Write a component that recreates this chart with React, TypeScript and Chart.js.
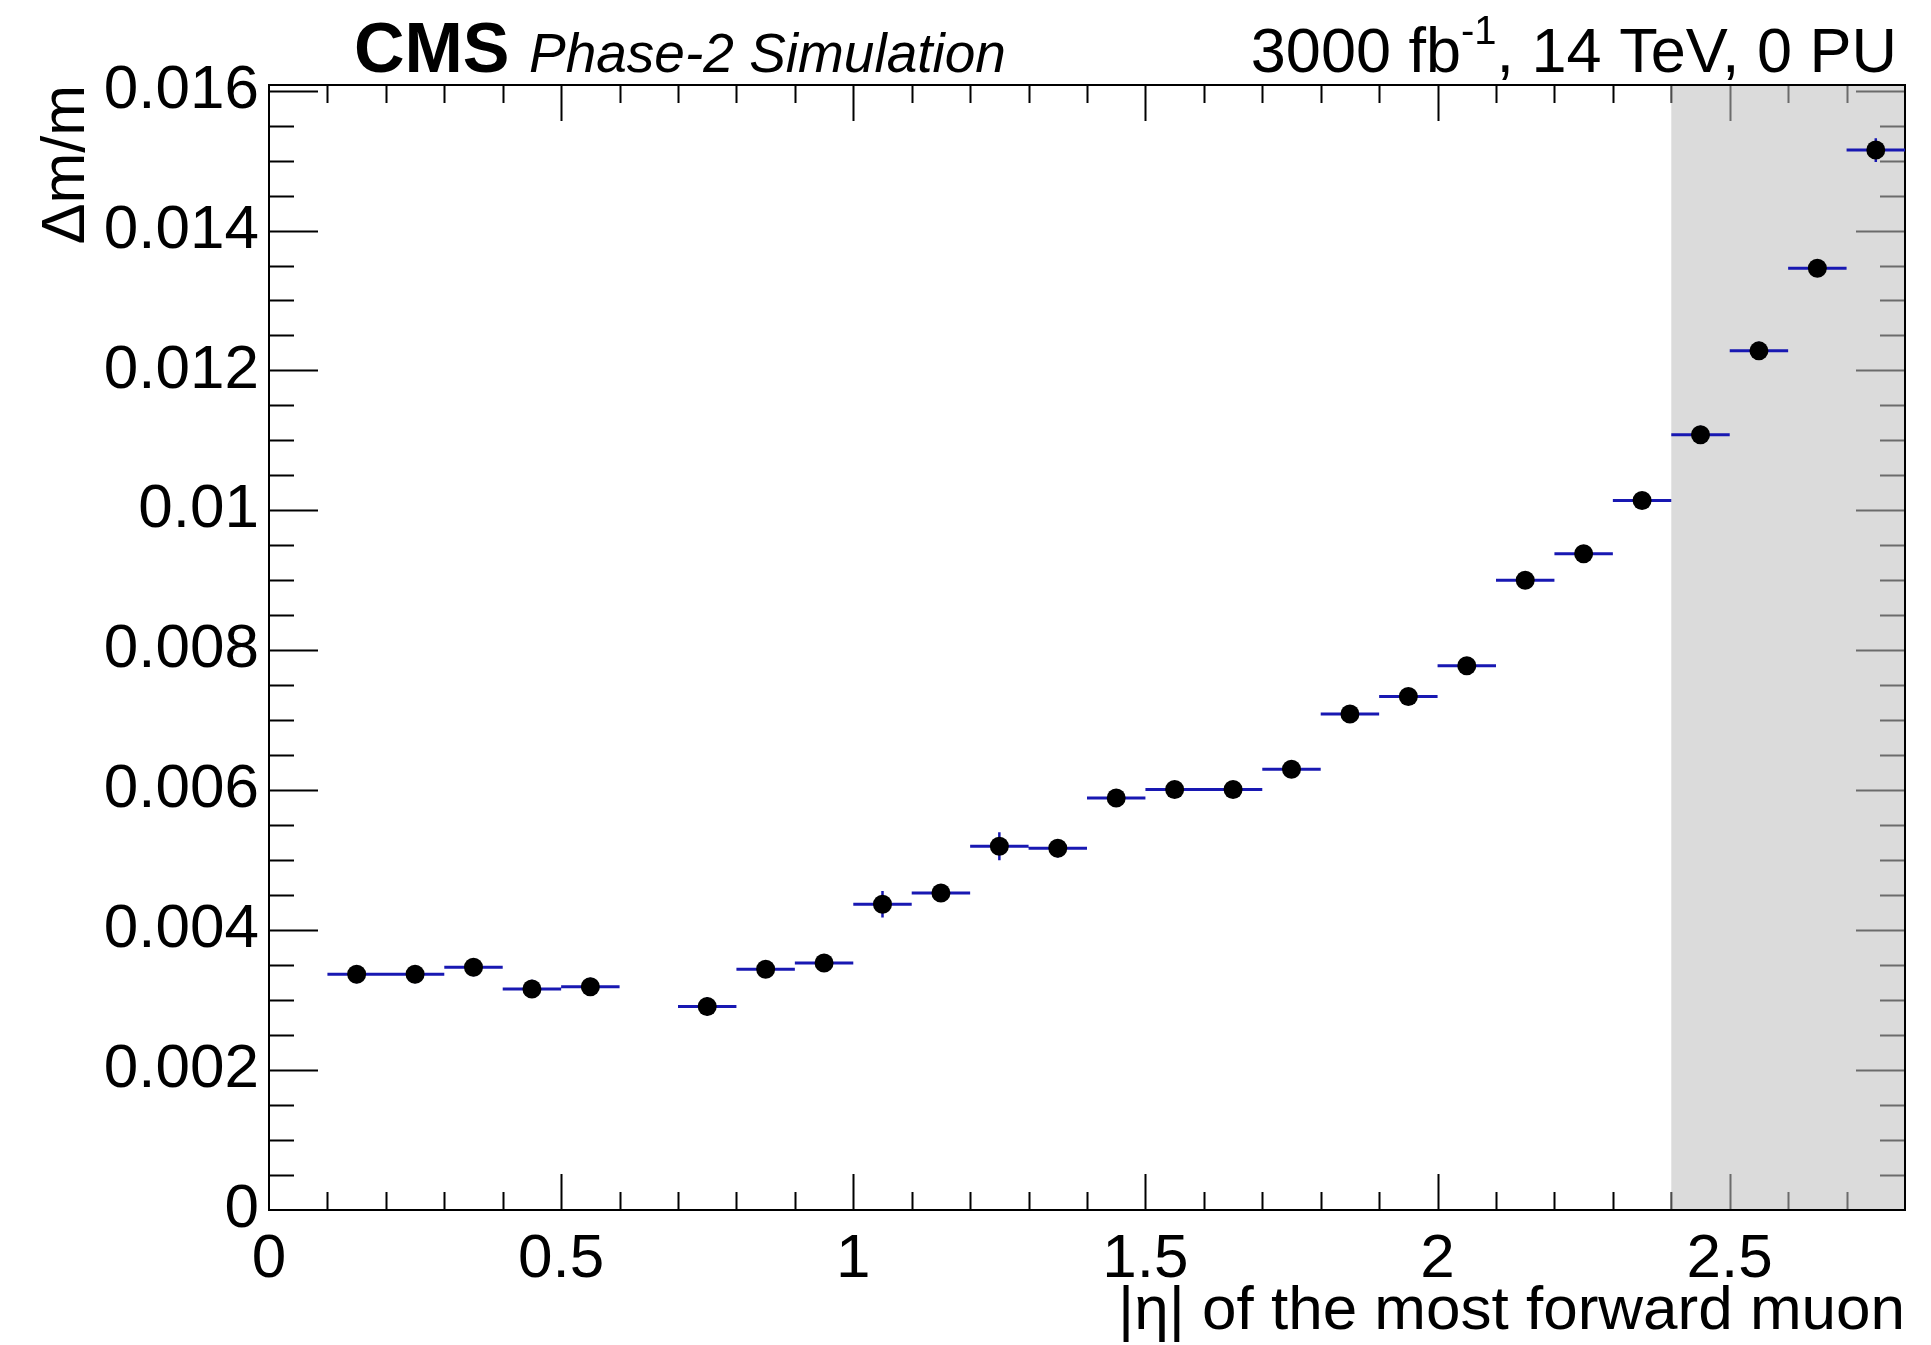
import React, { useEffect, useRef } from "react";
import { Chart, registerables } from "chart.js";

Chart.register(...registerables);

// ---- data ----
const binCenters = [
  0.15, 0.25, 0.35, 0.45, 0.55, 0.75, 0.85, 0.95, 1.05, 1.15, 1.25, 1.35, 1.45,
  1.55, 1.65, 1.75, 1.85, 1.95, 2.05, 2.15, 2.25, 2.35, 2.45, 2.55, 2.65, 2.75,
];
const binHalfWidths = binCenters.map(() => 0.05);
const massResolution = [
  0.00337, 0.00337, 0.00347, 0.00316, 0.00319, 0.00291, 0.00344, 0.00353,
  0.00437, 0.00453, 0.0052, 0.00517, 0.00589, 0.00601, 0.00601, 0.0063,
  0.00709, 0.00734, 0.00778, 0.009, 0.00938, 0.01014, 0.01108, 0.01228,
  0.01346, 0.01515,
];
const massResolutionErr = [
  0.00013, 0.00013, 0.00013, 0.00013, 0.00013, 0.00013, 0.00012, 0.00012,
  0.00019, 0.00012, 0.0002, 0.00013, 0.00012, 0.00012, 0.00012, 0.00012,
  0.00012, 0.00012, 0.00012, 0.00012, 0.00012, 0.00012, 0.00013, 0.00013,
  0.00012, 0.00017,
];
const xTickValues = [0, 0.5, 1, 1.5, 2, 2.5];
const xTickLabels = ["0", "0.5", "1", "1.5", "2", "2.5"];
const yTickValues = [0, 0.002, 0.004, 0.006, 0.008, 0.01, 0.012, 0.014, 0.016];
const yTickLabels = ["0", "0.002", "0.004", "0.006", "0.008", "0.01", "0.012", "0.014", "0.016"];
const xRange = [0, 2.8];
const yRange = [0, 0.01608];
const xMinorStep = 0.1;
const yMinorStep = 0.0005;
const shadedRegion = [2.4, 2.8];

const FONT = '"Liberation Sans", Arial, Helvetica, sans-serif';
const BLUE = "#1818b2";

const rootPlugin = {
  id: "rootFrame",
  beforeDatasetsDraw(chart: any) {
    const { ctx, chartArea: a, scales } = chart;
    const x = scales.x;
    const y = scales.y;
    ctx.save();
    // tick marks (inside frame, ROOT style)
    ctx.strokeStyle = "#000";
    ctx.lineWidth = 2;
    ctx.beginPath();
    const isMajor = (v: number, majors: number[]) =>
      majors.some((m) => Math.abs(m - v) < 1e-9);
    for (let k = 1; k * xMinorStep < xRange[1] - 1e-9; k++) {
      const v = k * xMinorStep;
      const len = isMajor(v, xTickValues) ? 36 : 18;
      const px = Math.round(x.getPixelForValue(v)) + 0.5;
      ctx.moveTo(px, a.bottom);
      ctx.lineTo(px, a.bottom - len);
      ctx.moveTo(px, a.top);
      ctx.lineTo(px, a.top + len);
    }
    for (let k = 1; k * yMinorStep < yRange[1] + 1e-12; k++) {
      const v = k * yMinorStep;
      const len = isMajor(v, yTickValues) ? 49 : 25;
      const py = Math.round(y.getPixelForValue(v)) + 0.5;
      ctx.moveTo(a.left, py);
      ctx.lineTo(a.left + len, py);
      ctx.moveTo(a.right, py);
      ctx.lineTo(a.right - len, py);
    }
    ctx.stroke();

    // shaded region
    const bx0 = x.getPixelForValue(shadedRegion[0]);
    const bx1 = x.getPixelForValue(shadedRegion[1]);
    ctx.fillStyle = "rgba(190,190,190,0.56)";
    ctx.fillRect(bx0, a.top, bx1 - bx0, a.bottom - a.top);

    // frame
    ctx.strokeStyle = "#000";
    ctx.lineWidth = 2;
    ctx.strokeRect(a.left, a.top, a.right - a.left, a.bottom - a.top);

    // bin-width lines and error bars
    ctx.strokeStyle = BLUE;
    ctx.lineWidth = 3;
    ctx.lineCap = "butt";
    ctx.beginPath();
    binCenters.forEach((c, i) => {
      const py = y.getPixelForValue(massResolution[i]);
      ctx.moveTo(x.getPixelForValue(c - binHalfWidths[i]), py);
      ctx.lineTo(x.getPixelForValue(c + binHalfWidths[i]), py);
    });
    ctx.stroke();
    ctx.lineWidth = 2.5;
    ctx.beginPath();
    binCenters.forEach((c, i) => {
      const px = x.getPixelForValue(c);
      ctx.moveTo(px, y.getPixelForValue(massResolution[i] - massResolutionErr[i]));
      ctx.lineTo(px, y.getPixelForValue(massResolution[i] + massResolutionErr[i]));
    });
    ctx.stroke();
    ctx.restore();
  },
  afterDraw(chart: any) {
    const { ctx } = chart;
    ctx.save();
    ctx.fillStyle = "#000";
    ctx.textBaseline = "alphabetic";
    ctx.textAlign = "left";
    ctx.font = `bold 70px ${FONT}`;
    ctx.fillText("CMS", 354, 72);
    ctx.font = `italic 55px ${FONT}`;
    ctx.fillText("Phase-2 Simulation", 529, 72);

    const p1 = "3000 fb";
    const sup = "-1";
    const p2 = ", 14 TeV, 0 PU";
    ctx.font = `63px ${FONT}`;
    const w1 = ctx.measureText(p1).width;
    const w2 = ctx.measureText(p2).width;
    ctx.font = `40px ${FONT}`;
    const ws = ctx.measureText(sup).width;
    const right = 1897;
    let sx = right - (w1 + ws + w2);
    ctx.font = `63px ${FONT}`;
    ctx.fillText(p1, sx, 72);
    sx += w1;
    ctx.font = `40px ${FONT}`;
    ctx.fillText(sup, sx, 44);
    sx += ws;
    ctx.font = `63px ${FONT}`;
    ctx.fillText(p2, sx, 72);
    ctx.restore();
  },
};

export default function App() {
  const canvasRef = useRef<HTMLCanvasElement | null>(null);

  useEffect(() => {
    const canvas = canvasRef.current;
    if (!canvas) return;
    const chart = new Chart(canvas, {
      type: "scatter",
      data: {
        datasets: [
          {
            label: "Δm/m",
            data: binCenters.map((c, i) => ({ x: c, y: massResolution[i] })),
            pointRadius: 9.5,
            pointHoverRadius: 9.5,
            pointBackgroundColor: "#000",
            pointBorderColor: "#000",
            pointBorderWidth: 0,
            showLine: false,
          },
        ],
      },
      options: {
        animation: false,
        responsive: false,
        maintainAspectRatio: false,
        devicePixelRatio: 1,
        events: [],
        layout: { padding: { left: 0, right: 26, top: 85, bottom: 0 } },
        plugins: {
          legend: { display: false },
          tooltip: { enabled: false },
        },
        scales: {
          x: {
            type: "linear",
            position: "bottom",
            min: xRange[0],
            max: xRange[1],
            afterFit: (s: any) => {
              s.height = 135;
            },
            afterBuildTicks: (s: any) => {
              s.ticks = xTickValues.map((v) => ({ value: v }));
            },
            grid: { display: false, drawTicks: false },
            border: { display: false },
            ticks: {
              autoSkip: false,
              maxRotation: 0,
              minRotation: 0,
              padding: 19,
              color: "#000",
              font: { family: FONT, size: 62, lineHeight: 1 },
              callback: (_v: any, i: number) => xTickLabels[i],
            },
            title: {
              display: true,
              text: "|η| of the most forward muon",
              align: "end",
              color: "#000",
              font: { family: FONT, size: 62, lineHeight: 1 },
              padding: { top: 0, bottom: 2.5 },
            },
          },
          y: {
            type: "linear",
            position: "left",
            min: yRange[0],
            max: yRange[1],
            afterFit: (s: any) => {
              s.width = 269;
            },
            afterBuildTicks: (s: any) => {
              s.ticks = yTickValues.map((v) => ({ value: v }));
            },
            grid: { display: false, drawTicks: false },
            border: { display: false },
            ticks: {
              autoSkip: false,
              padding: 10,
              color: "#000",
              font: { family: FONT, size: 62, lineHeight: 1 },
              callback: (_v: any, i: number) => yTickLabels[i],
            },
            title: {
              display: true,
              text: "Δm/m",
              align: "end",
              color: "#000",
              font: { family: FONT, size: 61, lineHeight: 1 },
              padding: { top: 37, bottom: 0 },
            },
          },
        },
      },
      plugins: [rootPlugin],
    } as any);
    return () => chart.destroy();
  }, []);

  return (
    <div style={{ position: "absolute", left: 0, top: 0, width: 1931, height: 1345, background: "#fff" }}>
      <canvas ref={canvasRef} width={1931} height={1345} style={{ display: "block", width: 1931, height: 1345 }} />
    </div>
  );
}
